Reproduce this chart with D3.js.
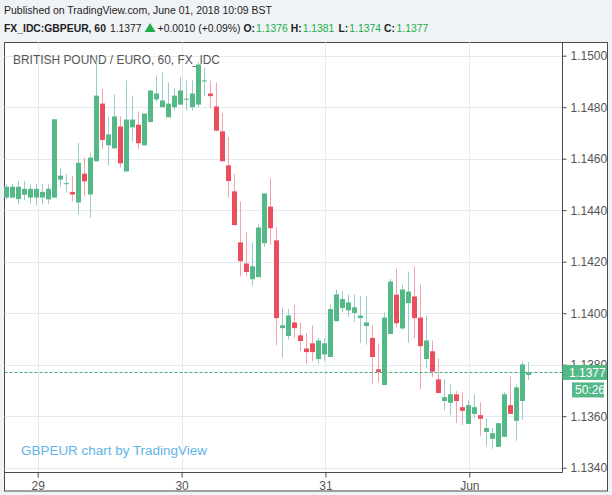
<!DOCTYPE html>
<html>
<head>
<meta charset="utf-8">
<script src="https://cdn.jsdelivr.net/npm/d3@7"></script>
<style>
  html, body { margin: 0; padding: 0; background: #f0f3f6; }
  svg { display: block; }
  text { font-family: "Liberation Sans", Arial, sans-serif; }
</style>
</head>
<body>
<div id="chart"></div>
<script>
// hourly candles, t = hours since May 29 00:00
const hours = d3.range(-5, 83);
const open = [1.14449,1.14449,1.14443,1.14460,1.14449,1.14449,1.14449,1.14442,1.14449,1.14519,1.14504,1.14471,1.14430,1.14542,1.14461,1.14590,1.14814,1.14652,1.14640,1.14725,1.14551,1.14722,1.14732,1.14652,1.14742,1.14830,1.14800,1.14761,1.14800,1.14810,1.14832,1.14800,1.14810,1.14900,1.14853,1.14803,1.14706,1.14574,1.14473,1.14275,1.14193,1.14132,1.14140,1.14272,1.14414,1.14283,1.13942,1.13911,1.13964,1.13914,1.13863,1.13883,1.13822,1.13840,1.13830,1.13969,1.14020,1.14011,1.14001,1.13981,1.13950,1.13904,1.13782,1.13721,1.13919,1.14072,1.13941,1.14039,1.14065,1.13983,1.13822,1.13852,1.13743,1.13659,1.13652,1.13685,1.13635,1.13570,1.13609,1.13604,1.13539,1.13512,1.13481,1.13520,1.13643,1.13582,1.13659,1.1376];
const high = [1.14501,1.14501,1.14514,1.14514,1.14501,1.14501,1.14501,1.14501,1.14753,1.14561,1.14540,1.14534,1.14662,1.14604,1.14623,1.14982,1.14871,1.14764,1.14849,1.14764,1.14904,1.14845,1.14784,1.14775,1.14865,1.14923,1.14935,1.14896,1.14873,1.14916,1.14904,1.14904,1.14975,1.14955,1.14903,1.14896,1.14777,1.14684,1.14541,1.14434,1.14314,1.14275,1.14345,1.14465,1.14524,1.14334,1.14023,1.14016,1.14034,1.13964,1.13922,1.13953,1.13904,1.13904,1.14034,1.14092,1.14086,1.14073,1.14073,1.14067,1.14067,1.13953,1.13883,1.14003,1.14134,1.14173,1.14111,1.14161,1.14181,1.14111,1.13991,1.13894,1.13825,1.13743,1.13724,1.13697,1.13693,1.13662,1.13685,1.13654,1.13592,1.13554,1.13573,1.13693,1.13755,1.13724,1.13813,1.1381];
const low = [1.14443,1.14447,1.14423,1.14439,1.14423,1.14417,1.14423,1.14423,1.14449,1.14492,1.14469,1.14434,1.14384,1.14453,1.14371,1.14590,1.14638,1.14573,1.14640,1.14566,1.14547,1.14664,1.14638,1.14652,1.14742,1.14819,1.14800,1.14761,1.14787,1.14810,1.14787,1.14787,1.14800,1.14845,1.14796,1.14706,1.14590,1.14448,1.14342,1.14144,1.14144,1.14105,1.14140,1.14257,1.14266,1.13875,1.13827,1.13897,1.13904,1.13853,1.13804,1.13813,1.13804,1.13813,1.13830,1.13969,1.14004,1.13985,1.13966,1.13884,1.13878,1.13726,1.13733,1.13721,1.13919,1.13946,1.13933,1.13884,1.13903,1.13706,1.13786,1.13752,1.13690,1.13623,1.13604,1.13574,1.13566,1.13570,1.13594,1.13524,1.13485,1.13474,1.13481,1.13520,1.13609,1.13505,1.13586,1.1374];
const close = [1.14491,1.14491,1.14491,1.14483,1.14483,1.14483,1.14471,1.14483,1.14753,1.14534,1.14505,1.14461,1.14584,1.14512,1.14604,1.14845,1.14673,1.14694,1.14764,1.14582,1.14752,1.14752,1.14660,1.14775,1.14865,1.14853,1.14826,1.14814,1.14845,1.14865,1.14833,1.14853,1.14966,1.14904,1.14843,1.14709,1.14590,1.14513,1.14342,1.14202,1.14160,1.14182,1.14333,1.14465,1.14330,1.13981,1.13953,1.13991,1.13942,1.13892,1.13849,1.13849,1.13894,1.13883,1.14016,1.14073,1.14055,1.14042,1.14023,1.13991,1.13964,1.13830,1.13772,1.13983,1.14123,1.13961,1.14092,1.14084,1.13981,1.13872,1.13894,1.13773,1.13690,1.13674,1.13685,1.13659,1.13621,1.13643,1.13635,1.13590,1.13554,1.13534,1.13573,1.13685,1.13609,1.13712,1.13801,1.1377];

const priceTicks = [1.134, 1.136, 1.138, 1.140, 1.142, 1.144, 1.146, 1.148, 1.150];
const dayTicks = [0, 24, 48, 72];
const dayLabels = ["29", "30", "31", "Jun"];
const lastPrice = 1.1377;

const width = 612, height = 495;
const upColor = "#53b987", downColor = "#eb4d5c";
const upWick = "#9ccbcb", downWick = "#f7a2aa";
const axisColor = "#4a4a4a", gridColor = "#e1ebf1", labelColor = "#555";
const headFont = "'Liberation Sans Narrow', 'Liberation Sans', Arial, sans-serif";

const svg = d3.select("#chart")
    .append("svg")
    .attr("width", width)
    .attr("height", height);

// shrink a text's font so its natural width fits the given width
function fit(sel, w, maxSize) {
    sel.each(function() {
        const el = d3.select(this);
        const size = +el.attr("font-size");
        const len = this.getComputedTextLength();
        if (len > 0) el.attr("font-size", Math.min(maxSize, size * w / len).toFixed(2));
    });
    return sel;
}

// panel
const pLeft = 4.5, pTop = 42.5, pRight = 562.5, pBottom = 472.5;
svg.append("rect")
    .attr("x", pLeft).attr("y", pTop)
    .attr("width", 607.5 - pLeft).attr("height", 491 - pTop)
    .attr("fill", "#fff")
    .attr("stroke", axisColor);

// scales
const x = d3.scaleLinear().domain([0, 72]).range([37.7, 469.3]);
const y = d3.scaleLinear().domain([1.134, 1.150]).range([467.7, 55.7]);

// grid
svg.append("g").selectAll("line")
    .data(priceTicks).join("line")
    .attr("x1", pLeft).attr("x2", pRight)
    .attr("y1", d => Math.round(y(d)) + 0.5).attr("y2", d => Math.round(y(d)) + 0.5)
    .attr("stroke", gridColor);

svg.append("g").selectAll("line")
    .data(dayTicks).join("line")
    .attr("x1", d => Math.round(x(d)) + 0.5).attr("x2", d => Math.round(x(d)) + 0.5)
    .attr("y1", pTop).attr("y2", pBottom)
    .attr("stroke", gridColor);

// title and watermark
fit(svg.append("text")
    .attr("x", 13).attr("y", 64)
    .attr("fill", "#555")
    .attr("font-size", 13)
    .text("BRITISH POUND / EURO, 60, FX_IDC"), 207, 13);

fit(svg.append("text")
    .attr("x", 21).attr("y", 455)
    .attr("fill", "#62b4e8")
    .attr("font-size", 15)
    .text("GBPEUR chart by TradingView"), 186, 15);

// candles
const candles = hours.map((t, i) => ({t, o: open[i], h: high[i], l: low[i], c: close[i]}));
const cg = svg.append("g");
const cx = d => Math.round(x(d.t) - 1.4);

cg.selectAll("line")
    .data(candles).join("line")
    .attr("x1", d => cx(d) + 0.5).attr("x2", d => cx(d) + 0.5)
    .attr("y1", d => y(d.h)).attr("y2", d => y(d.l))
    .attr("stroke", d => d.c >= d.o ? upWick : downWick);

cg.selectAll("rect")
    .data(candles).join("rect")
    .attr("x", d => cx(d) - 2)
    .attr("width", 5)
    .attr("y", d => y(Math.max(d.o, d.c)))
    .attr("height", d => Math.max(1, Math.abs(y(d.o) - y(d.c))))
    .attr("fill", d => d.c >= d.o ? upColor : downColor);

// last price line
svg.append("line")
    .attr("x1", pLeft).attr("x2", pRight)
    .attr("y1", Math.round(y(lastPrice)) + 0.5).attr("y2", Math.round(y(lastPrice)) + 0.5)
    .attr("stroke", "#3fae7a")
    .attr("stroke-dasharray", "3,2");

// price axis
const yAxis = svg.append("g")
    .attr("transform", `translate(${pRight},0)`)
    .call(d3.axisRight(y).tickValues(priceTicks).tickFormat(d3.format(".4f")).tickSize(4).tickPadding(4));
yAxis.select(".domain").remove();
yAxis.selectAll("line").attr("stroke", axisColor);
yAxis.selectAll("text").attr("fill", labelColor).attr("font-size", 12)
    .attr("font-family", "Liberation Sans, Arial, sans-serif");

// time axis
const xAxis = svg.append("g")
    .attr("transform", `translate(0,${pBottom})`)
    .call(d3.axisBottom(x).tickValues(dayTicks).tickFormat((d, i) => dayLabels[i]).tickSize(5).tickPadding(4));
xAxis.select(".domain").remove();
xAxis.selectAll("line").attr("stroke", axisColor);
xAxis.selectAll("text").attr("fill", labelColor).attr("font-size", 12)
    .attr("font-family", "Liberation Sans, Arial, sans-serif");

svg.append("line")
    .attr("x1", pRight).attr("x2", pRight).attr("y1", pTop).attr("y2", pBottom)
    .attr("stroke", axisColor);
svg.append("line")
    .attr("x1", pLeft).attr("x2", pRight).attr("y1", pBottom).attr("y2", pBottom)
    .attr("stroke", axisColor);

// last price badges
const ly = y(lastPrice);
svg.append("rect")
    .attr("x", pRight).attr("y", ly - 7.5)
    .attr("width", 607 - pRight).attr("height", 15)
    .attr("fill", upColor);
svg.append("text")
    .attr("x", 569).attr("y", ly + 4.5)
    .attr("fill", "#fff").attr("font-size", 12)
    .text(d3.format(".4f")(lastPrice));
svg.append("rect")
    .attr("x", 572).attr("y", ly + 10)
    .attr("width", 32).attr("height", 15)
    .attr("fill", upColor);
svg.append("text")
    .attr("x", 575).attr("y", ly + 22)
    .attr("fill", "#fff").attr("font-size", 12)
    .text("50:26");

// header
fit(svg.append("text")
    .attr("x", 4).attr("y", 14)
    .attr("fill", "#222").attr("font-size", 13)
    .style("font-family", headFont)
    .text("Published on TradingView.com, June 01, 2018 10:09 BST"), 268, 13);

const green = "#22ab48";
const parts = [
    {x: 4, t: "FX_IDC:GBPEUR, 60", b: true, gap: 4},
    {x: 105, t: "1.1377", gap: 3},
    {x: 141, t: "▲", c: green, tri: true},
    {x: 154, t: "+0.0010 (+0.09%)", gap: 3},
    {x: 241, t: "O:", b: true, gap: 1},
    {x: 253.5, t: "1.1376", c: green, gap: 3},
    {x: 289.5, t: "H:", b: true, gap: 1},
    {x: 302, t: "1.1381", c: green, gap: 3},
    {x: 338.5, t: "L:", b: true, gap: 1},
    {x: 348.5, t: "1.1374", c: green, gap: 3},
    {x: 384, t: "C:", b: true, gap: 1},
    {x: 396.5, t: "1.1377", c: green, gap: 3}
];
const hdr = svg.append("g");
// one size for the whole second line, taken from the change text
const probe = fit(hdr.append("text").attr("font-size", 13).style("font-family", headFont)
    .text("+0.0010 (+0.09%)"), 83, 13);
const headSize = +probe.attr("font-size");
probe.remove();

let cursor = 0;
parts.forEach(d => {
    const px = Math.max(d.x, cursor);
    if (d.tri) {
        hdr.append("path")
            .attr("d", `M${px},32 L${px + 5.5},23 L${px + 11},32 Z`)
            .attr("fill", green);
        cursor = px + 13;
        return;
    }
    const t = hdr.append("text")
        .attr("x", px).attr("y", 32)
        .attr("font-size", headSize)
        .style("font-family", headFont)
        .attr("font-weight", d.b ? "bold" : "normal")
        .attr("fill", d.c || "#222")
        .text(d.t);
    cursor = px + t.node().getComputedTextLength() + d.gap;
});
</script>
</body>
</html>
